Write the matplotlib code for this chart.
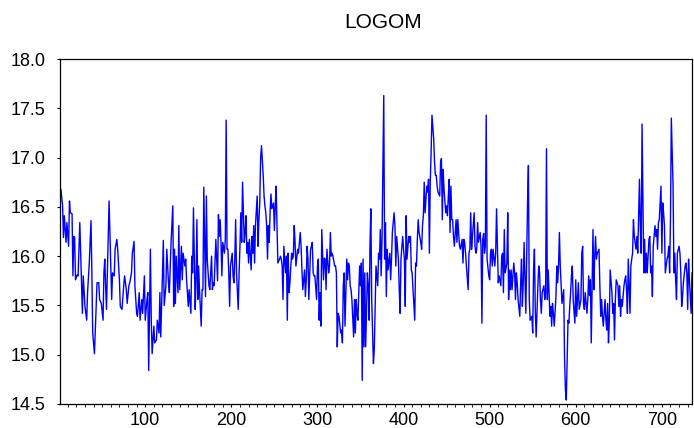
import matplotlib
matplotlib.use("Agg")
import matplotlib.pyplot as plt
from matplotlib.ticker import FormatStrFormatter, MultipleLocator
import numpy as np

title = "LOGOM"
xticks = [100, 200, 300, 400, 500, 600, 700]
yticks = [14.5, 15.0, 15.5, 16.0, 16.5, 17.0, 17.5, 18.0]

obs = [
    1, 2, 4, 5, 6, 8, 9, 11, 12, 13, 15, 16, 17, 18, 19, 21, 22, 24, 25, 27,
    28, 30, 32, 33, 35, 37, 38, 39, 41, 43, 44, 46, 47, 49, 51, 52, 53, 54, 55, 58,
    61, 62, 64, 65, 67, 68, 70, 71, 73, 75, 76, 78, 79, 81, 82, 84, 85, 87, 88, 90,
    91, 93, 94, 96, 97, 99, 100, 102, 103, 104, 106, 107, 108, 110, 111, 113, 114, 116, 117, 118,
    119, 121, 122, 124, 125, 127, 128, 130, 132, 133, 134, 135, 136, 138, 139, 140, 142, 143, 144, 146,
    147, 148, 150, 151, 153, 154, 155, 156, 158, 159, 160, 161, 162, 163, 165, 166, 167, 168, 170, 171,
    172, 174, 175, 177, 178, 179, 180, 182, 184, 185, 186, 187, 188, 189, 190, 192, 193, 194, 195, 196,
    197, 198, 199, 201, 202, 203, 204, 205, 206, 208, 209, 210, 211, 212, 213, 215, 216, 217, 218, 219,
    220, 221, 223, 224, 225, 226, 227, 228, 230, 231, 232, 233, 234, 235, 237, 238, 239, 240, 241, 242,
    243, 244, 245, 246, 247, 249, 250, 251, 252, 253, 254, 256, 257, 258, 259, 260, 261, 263, 264, 265,
    266, 267, 268, 270, 271, 272, 273, 274, 275, 277, 278, 279, 280, 281, 282, 283, 285, 286, 287, 288,
    289, 290, 292, 293, 294, 295, 296, 297, 299, 300, 301, 302, 303, 304, 305, 307, 308, 309, 310, 311,
    313, 314, 315, 316, 317, 318, 320, 321, 322, 323, 324, 325, 327, 328, 329, 330, 331, 332, 334, 335,
    336, 337, 338, 339, 340, 342, 343, 344, 345, 346, 347, 349, 350, 351, 352, 353, 354, 355, 356, 358,
    359, 360, 361, 362, 363, 365, 366, 368, 369, 370, 371, 372, 373, 374, 375, 377, 378, 379, 380, 381,
    382, 384, 385, 386, 387, 389, 390, 391, 392, 394, 395, 396, 397, 399, 400, 401, 402, 403, 404, 406,
    407, 408, 409, 410, 411, 413, 414, 415, 416, 417, 418, 420, 421, 422, 423, 424, 425, 427, 428, 429,
    430, 431, 432, 433, 435, 436, 437, 438, 439, 440, 442, 443, 444, 445, 446, 447, 449, 450, 451, 452,
    453, 454, 455, 456, 457, 458, 459, 461, 462, 463, 464, 465, 466, 468, 469, 470, 471, 472, 473, 475,
    476, 477, 478, 479, 480, 482, 483, 484, 485, 486, 487, 489, 490, 491, 492, 493, 494, 495, 496, 497,
    499, 500, 501, 502, 503, 504, 506, 507, 508, 509, 510, 511, 513, 514, 515, 516, 517, 518, 520, 521,
    522, 523, 524, 525, 526, 528, 529, 530, 531, 532, 533, 535, 536, 537, 538, 539, 540, 542, 543, 544,
    545, 546, 547, 549, 550, 551, 552, 553, 554, 556, 557, 558, 559, 560, 561, 563, 564, 565, 566, 567,
    568, 570, 571, 572, 573, 574, 575, 577, 578, 579, 580, 581, 582, 584, 585, 586, 587, 588, 589, 591,
    592, 593, 594, 595, 596, 597, 599, 600, 601, 602, 603, 604, 606, 607, 608, 609, 610, 611, 613, 614,
    615, 616, 617, 618, 620, 621, 622, 623, 624, 625, 627, 628, 629, 630, 631, 632, 634, 635, 636, 637,
    638, 639, 640, 642, 643, 644, 645, 646, 647, 649, 650, 651, 652, 653, 654, 656, 657, 658, 659, 660,
    661, 663, 664, 665, 666, 667, 668, 670, 671, 672, 673, 674, 675, 676, 677, 679, 680, 681, 682, 683,
    685, 686, 687, 688, 689, 690, 692, 693, 694, 695, 696, 697, 699, 700, 701, 702, 703, 704, 706, 707,
    708, 709, 710, 711, 713, 714, 715, 716, 717, 718, 720, 721, 722, 723, 724, 725, 727, 728, 729, 730,
    731, 732, 734, 735,
]

logom = [
    16.61, 16.68, 16.51, 16.19, 16.41, 16.14, 16.34, 16.10, 16.56, 16.44, 16.43, 15.80, 16.20, 16.19, 15.76, 15.81, 15.80, 16.34, 16.03, 15.42,
    15.80, 15.49, 15.35, 15.63, 15.93, 16.36, 15.83, 15.22, 15.01, 15.49, 15.73, 15.73, 15.56, 15.52, 15.35, 15.83, 15.97, 15.69, 15.46, 16.56,
    15.56, 15.83, 15.80, 16.07, 16.17, 16.07, 15.76, 15.49, 15.46, 15.70, 15.80, 15.66, 15.52, 15.70, 15.73, 15.83, 16.03, 16.15, 15.70, 15.42,
    15.39, 15.63, 15.35, 15.56, 15.42, 15.80, 15.35, 15.56, 15.63, 14.84, 16.07, 15.35, 15.01, 15.29, 15.12, 15.15, 15.35, 15.22, 15.63, 15.18,
    15.49, 16.16, 15.50, 15.70, 16.07, 15.73, 15.63, 16.14, 16.51, 15.49, 16.07, 15.52, 16.00, 15.63, 16.31, 15.66, 16.10, 15.76, 16.03, 15.90,
    15.97, 15.76, 15.49, 15.66, 15.42, 16.00, 15.83, 16.49, 15.46, 15.76, 16.37, 15.56, 15.90, 15.66, 15.29, 15.66, 15.66, 16.70, 15.59, 16.61,
    15.97, 15.70, 15.66, 16.00, 15.66, 15.73, 15.70, 16.17, 15.75, 16.42, 16.20, 16.37, 16.14, 15.80, 16.14, 16.03, 16.17, 17.38, 16.07, 16.07,
    15.83, 15.49, 15.90, 16.03, 15.80, 15.73, 15.97, 16.37, 15.83, 15.46, 15.83, 16.10, 16.44, 16.14, 16.75, 16.14, 16.24, 16.41, 16.03, 16.14,
    15.93, 16.17, 15.86, 16.20, 16.03, 16.31, 15.93, 16.31, 16.61, 16.10, 16.37, 16.54, 16.99, 17.12, 16.82, 16.61, 16.51, 16.44, 16.31, 15.97,
    16.31, 16.14, 16.45, 16.63, 16.48, 16.54, 16.26, 16.51, 16.71, 16.31, 15.93, 15.97, 16.00, 15.97, 15.90, 15.56, 16.10, 15.83, 16.00, 15.35,
    16.03, 15.63, 15.73, 16.03, 15.97, 16.00, 16.31, 16.14, 15.90, 16.07, 16.03, 16.14, 16.24, 16.10, 15.86, 15.66, 15.86, 15.59, 15.76, 16.10,
    15.97, 15.56, 16.07, 16.10, 16.14, 15.83, 15.80, 15.80, 15.56, 15.90, 15.97, 15.35, 15.63, 15.29, 16.27, 15.76, 15.98, 15.97, 15.66, 16.07,
    15.83, 15.90, 16.24, 16.00, 16.03, 16.00, 15.90, 15.90, 15.83, 15.08, 15.42, 15.39, 15.22, 15.25, 15.12, 15.70, 15.83, 15.29, 15.97, 15.76,
    15.93, 15.90, 15.70, 15.66, 15.56, 15.18, 15.56, 15.22, 15.56, 15.42, 15.35, 15.90, 15.70, 15.93, 14.74, 15.97, 15.08, 15.83, 15.08, 15.83,
    15.70, 15.35, 16.10, 16.48, 15.56, 14.91, 15.05, 15.90, 15.80, 15.70, 16.03, 15.97, 16.27, 15.80, 16.17, 17.63, 15.97, 16.34, 15.59, 16.07,
    15.86, 16.03, 15.76, 15.97, 16.24, 16.44, 16.31, 15.90, 16.20, 15.97, 15.66, 15.42, 15.97, 16.20, 16.07, 15.97, 15.49, 16.41, 15.97, 16.20,
    16.14, 16.20, 15.86, 15.83, 15.66, 15.35, 15.93, 15.90, 16.17, 16.37, 16.24, 16.14, 16.07, 16.31, 16.41, 16.75, 16.44, 16.71, 16.65, 16.78,
    16.03, 16.75, 17.05, 17.43, 17.19, 16.95, 16.82, 16.82, 16.71, 16.65, 16.61, 16.95, 16.99, 16.37, 16.88, 16.68, 16.44, 16.51, 16.41, 16.61,
    16.78, 16.24, 16.71, 16.37, 16.37, 16.20, 16.10, 16.37, 16.14, 16.37, 16.24, 16.10, 16.07, 16.17, 15.93, 16.17, 16.14, 16.03, 15.90, 15.66,
    16.03, 16.07, 16.44, 16.07, 16.20, 16.44, 16.10, 16.03, 16.07, 16.34, 16.14, 16.24, 16.10, 15.32, 16.17, 16.23, 16.03, 16.10, 17.43, 15.97,
    15.80, 15.76, 16.03, 16.07, 15.90, 16.07, 15.90, 16.03, 16.48, 16.10, 15.73, 15.80, 15.70, 16.00, 16.03, 15.63, 16.27, 15.83, 15.93, 16.44,
    15.56, 15.86, 15.66, 15.86, 15.66, 15.93, 15.83, 15.56, 15.83, 15.73, 15.56, 15.39, 15.73, 15.97, 15.49, 15.73, 16.14, 15.42, 15.97, 16.54,
    16.92, 15.56, 15.35, 15.39, 15.22, 15.86, 16.07, 15.45, 15.18, 15.70, 15.90, 15.83, 15.56, 15.42, 15.63, 15.70, 15.56, 15.63, 17.09, 15.56,
    15.86, 15.39, 15.49, 15.29, 15.52, 15.42, 15.29, 15.59, 15.90, 15.73, 15.90, 16.24, 15.90, 15.52, 15.59, 15.66, 14.95, 14.64, 14.54, 15.35,
    15.32, 15.49, 15.63, 15.80, 15.90, 15.56, 15.32, 15.76, 15.39, 15.56, 15.73, 15.46, 15.56, 16.03, 16.10, 15.52, 15.46, 15.63, 15.42, 15.56,
    15.80, 15.60, 15.76, 15.12, 16.27, 15.66, 16.00, 16.20, 15.97, 16.03, 16.07, 15.70, 15.39, 15.56, 15.39, 15.29, 15.56, 15.35, 15.25, 15.52,
    15.12, 15.35, 15.86, 15.63, 15.42, 15.52, 15.15, 15.56, 15.76, 15.70, 15.49, 15.70, 15.39, 15.56, 15.49, 15.70, 15.76, 15.80, 15.66, 15.42,
    15.97, 15.42, 15.90, 15.97, 16.03, 16.37, 16.20, 16.07, 16.20, 16.03, 16.41, 16.78, 16.28, 16.03, 17.34, 15.83, 16.17, 15.83, 16.03, 15.83,
    16.17, 16.20, 15.83, 15.90, 15.59, 16.10, 16.31, 16.20, 16.27, 16.07, 16.34, 16.37, 16.71, 16.03, 16.54, 16.44, 16.31, 15.83, 15.97, 16.00,
    16.10, 15.83, 16.37, 17.40, 16.71, 15.83, 16.03, 15.76, 15.56, 16.03, 16.10, 16.03, 15.83, 15.49, 15.59, 15.73, 15.90, 15.93, 15.83, 15.46,
    15.97, 15.76, 15.42, 15.83,
]

assert len(obs) == len(logom)

plt.rcParams["font.family"] = ["Liberation Sans", "DejaVu Sans"]

W, H = 694, 428
fig = plt.figure(figsize=(W / 100, H / 100), dpi=100)
ax = fig.add_axes([60 / W, 24 / H, 632 / W, 345 / H])

ax.plot(obs, logom, color="#0000FF", lw=1.0)

ax.set_xlim(1, 735)
ax.set_ylim(14.5, 18.0)
ax.set_xticks(xticks)
ax.set_yticks(yticks)
ax.yaxis.set_major_formatter(FormatStrFormatter("%.1f"))
ax.xaxis.set_minor_locator(MultipleLocator(10))
ax.tick_params(axis="both", which="major", direction="out", length=2.5, width=0.8,
               labelsize=13, colors="black")
ax.tick_params(axis="x", which="minor", direction="out", length=2, width=0.6)
ax.tick_params(axis="x", which="major", pad=3)
ax.tick_params(axis="y", which="major", pad=8)
for s in ax.spines.values():
    s.set_linewidth(0.9)
    s.set_color("black")

fig.text(383 / W, 1 - 22 / H, title, ha="center", va="center", fontsize=15)

fig.savefig("out.png", dpi=100)
